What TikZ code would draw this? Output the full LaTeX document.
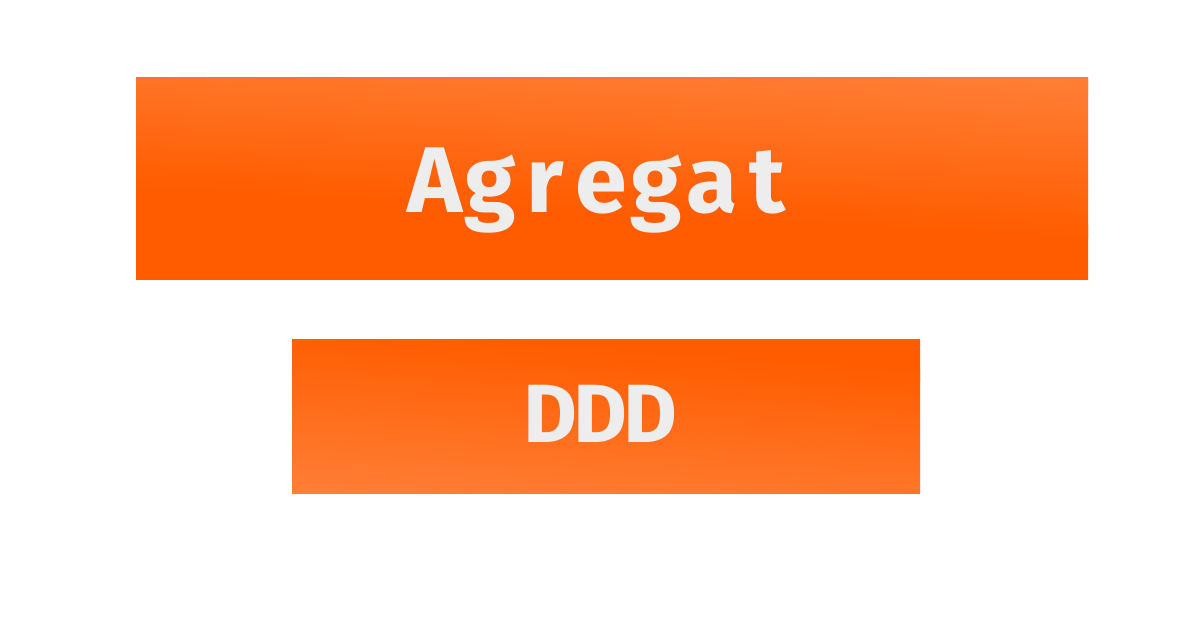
\documentclass[tikz,border=0pt]{standalone}
\usepackage{fontspec}
\newfontfamily\fira{Fira Sans}
\definecolor{orD}{HTML}{FF5C00}
\definecolor{orL}{HTML}{FF7F37}
\definecolor{txt}{HTML}{EDEDED}
\newcommand{\mcA}[1]{\makebox[41.6pt][c]{#1}}
\newcommand{\mcB}[1]{\makebox[37.5pt][c]{#1}}
\begin{document}
\begin{tikzpicture}[x=0.75pt,y=0.75pt,
  lbl/.style={inner sep=0pt, outer sep=0pt, text=txt, anchor=base}]
\useasboundingbox (0,0) rectangle (1200,630);
\fill[white] (0,0) rectangle (1200,630);
% top box: x 136..1088, y 350..552 ; centre (612,451)
\begin{scope}
  \clip (136,350) rectangle (1088,552);
  \begin{scope}[transform canvas={rotate around={-3:(612,451)}}]
    \fill[orD] (80,300) rectangle (1150,430);
    \fill[orL] (80,560) rectangle (1150,620);
    \shade[bottom color=orD, top color=orL] (80,417) rectangle (1150,578);
  \end{scope}
\end{scope}
% bottom box: x 292..920, y 136..290 ; centre (606,213)
\begin{scope}
  \clip (292,136) rectangle (920,290);
  \begin{scope}[transform canvas={rotate around={-4:(606,213)}}]
    \fill[orD] (250,270) rectangle (960,330);
    \fill[orL] (250,90) rectangle (960,125);
    \shade[bottom color=orL, top color=orD] (250,113) rectangle (960,283);
  \end{scope}
\end{scope}
\node[lbl, font=\fira\bfseries\fontsize{70}{84}\selectfont] (agg) at (601,417)
  {\mcA{A}\mcA{g}\mcA{r}\mcA{e}\mcA{g}\mcA{a}\mcA{t}};
\node[lbl, font=\fira\bfseries\fontsize{62}{74}\selectfont] (ddd) at (600,187)
  {\mcB{D}\mcB{D}\mcB{D}};
\end{tikzpicture}
\end{document}
